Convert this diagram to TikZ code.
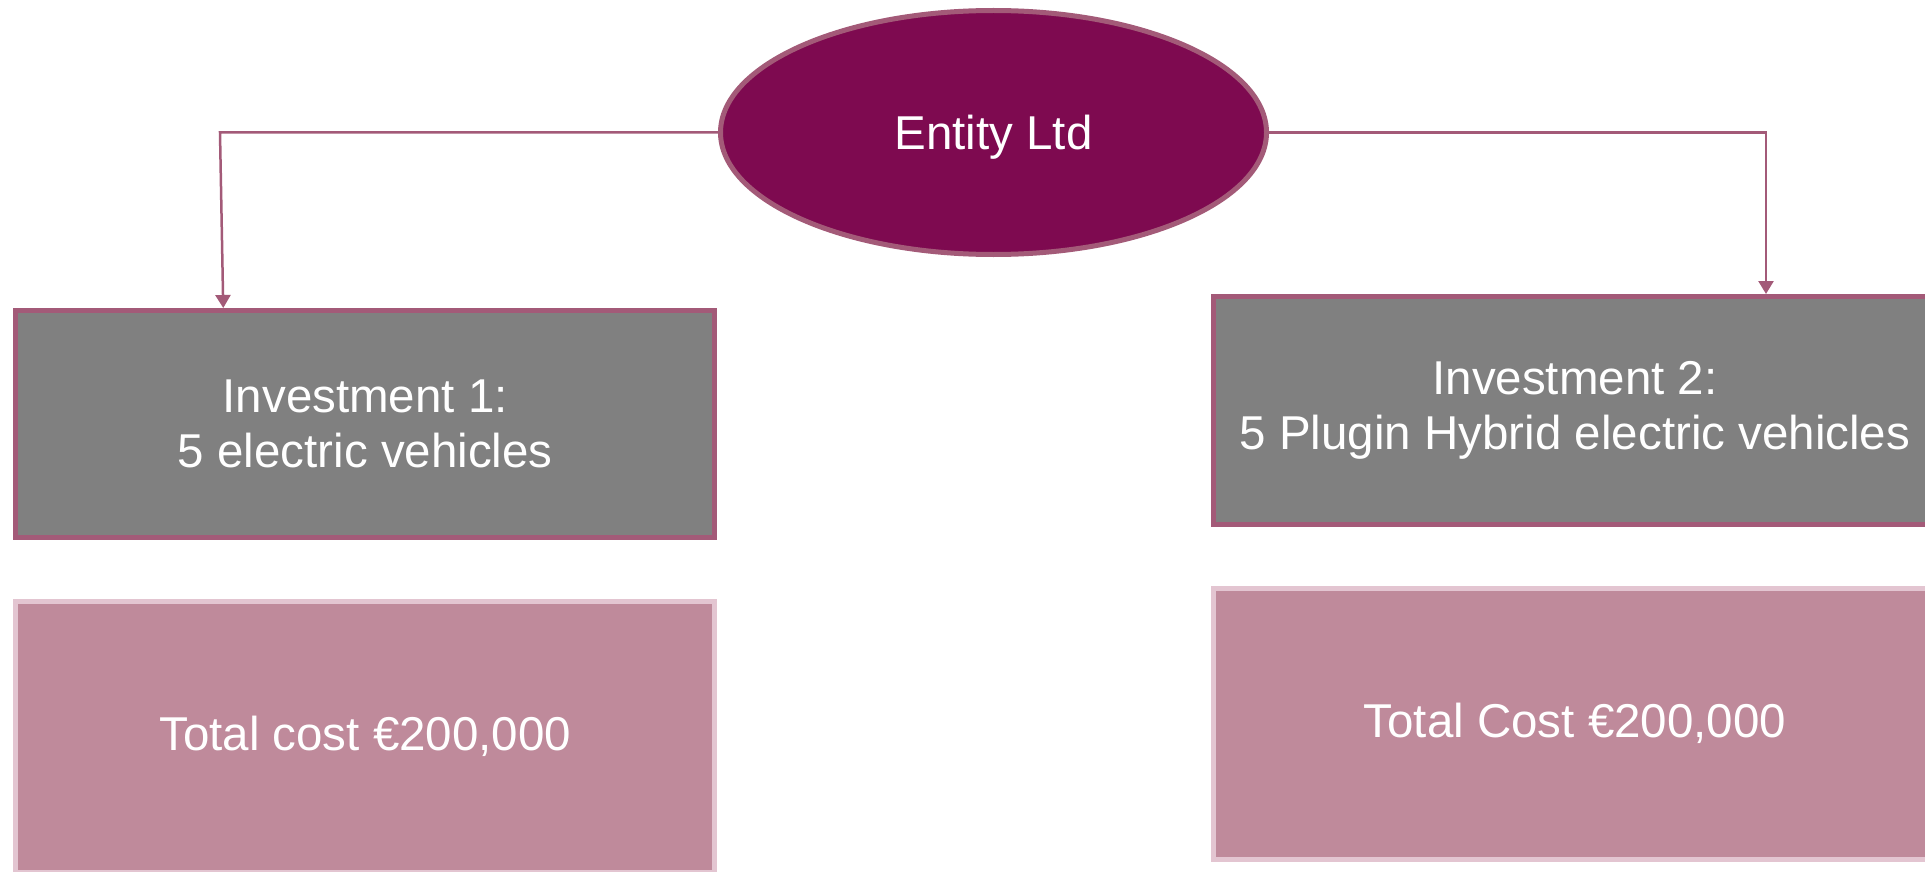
\documentclass[tikz,border=0pt]{standalone}
\usepackage{fontspec}
\setmainfont{Liberation Sans}
\usepackage{xcolor}
\usepackage{tikz}
\usetikzlibrary{arrows.meta,positioning,shapes.geometric}

\definecolor{plum}{HTML}{7E0A50}
\definecolor{plumline}{HTML}{A35A78}
\definecolor{boxgray}{HTML}{808080}
\definecolor{rose}{HTML}{BF8A9B}
\definecolor{roseline}{HTML}{E3C5D1}

\begin{document}
\begin{tikzpicture}[
  x=1pt, y=-1pt,
  font=\fontsize{47.5pt}{55pt}\selectfont,
  entity/.style={ellipse, draw=plumline, fill=plum, line width=5pt, text=white, inner sep=0pt,
    minimum width=546pt, minimum height=244pt, text depth=0pt},
  invest/.style={draw=plumline, fill=boxgray, line width=5pt, text=white, align=center, inner sep=0pt,
    minimum width=699pt, minimum height=227pt},
  cost/.style={draw=roseline, fill=rose, line width=5pt, text=white, inner sep=0pt,
    minimum width=699pt, minimum height=271pt},
  arr/.style={-{Triangle[width=15pt,length=13pt]}, draw=plumline, line width=2.5pt},
  node distance=58.5pt
]
\useasboundingbox (0,0) rectangle (1925,872);
\clip (0,0) rectangle (1925,872);

\node[entity] (ent) at (993.5,132.5) {Entity Ltd};

\node[invest] (inv1) at (365.25,424) {Investment 1:\\5 electric vehicles};
\node[invest, minimum width=723pt, minimum height=228pt] (inv2) at (1575,410.5) {Investment 2:\\5 Plugin Hybrid electric vehicles};

\node[cost, below=of inv1] (cost1) {Total cost €200,000};
\node[cost, below=of inv2, minimum width=723pt] (cost2) {Total Cost €200,000};

% elbow connectors from the entity to both investments
\coordinate (l1) at (220,132.5);
\coordinate (r1) at (1766,132.5);
\draw[arr] (ent.west) -- (l1) -- ([xshift=-142pt]inv1.north);
\draw[arr] (ent.east) -- (r1) -- (r1 |- inv2.north);
\end{tikzpicture}
\end{document}
